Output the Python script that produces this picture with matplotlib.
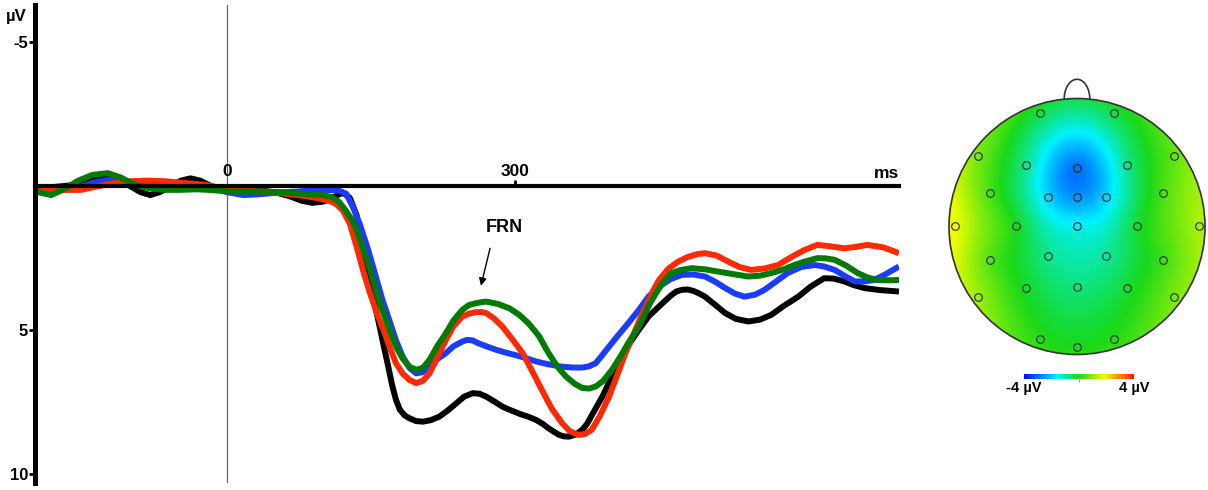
import numpy as np
import matplotlib
matplotlib.use("Agg")
import matplotlib.pyplot as plt
from matplotlib.colors import LinearSegmentedColormap
from matplotlib.patches import Circle

plt.rcParams['font.family'] = ['Liberation Sans', 'DejaVu Sans']
plt.rcParams['font.weight'] = 'bold'

# ERP waveforms (ms, µV; negative up)
t_black = [-200, -180, -159, -140, -124, -112, -100, -90, -80, -70, -59, -48, -38, -28, -17, -5, 3, 20, 38, 52,
           66, 78, 89, 100, 107, 114, 121, 128, 135, 140, 145, 149, 154, 159, 164, 168, 172, 176, 180, 185,
           190, 197, 204, 212, 221, 230, 239, 247, 256, 263, 270, 279, 287, 296, 305, 314, 322, 329, 335, 341,
           346, 351, 356, 363, 370, 375, 380, 385, 391, 396, 401, 406, 411, 420, 429, 439, 450, 462, 468, 474,
           480, 486, 492, 498, 508, 519, 530, 543, 555, 567, 580, 595, 608, 622, 632, 643, 653, 664, 680, 700]
v_black = [0.06, 0.02, -0.05, -0.25, -0.40, -0.25, 0.01, 0.2, 0.30, 0.2, 0.0, -0.2, -0.28, -0.2, -0.02, 0.1, 0.12, 0.13, 0.15, 0.22,
           0.35, 0.5, 0.57, 0.53, 0.45, 0.32, 0.22, 0.4, 1.0, 1.9, 2.6, 3.3, 4.1, 4.87, 5.65, 6.26, 6.9, 7.41, 7.75, 7.95,
           8.05, 8.15, 8.17, 8.12, 8.0, 7.78, 7.53, 7.3, 7.18, 7.2, 7.3, 7.48, 7.65, 7.78, 7.9, 8.0, 8.11, 8.25, 8.4, 8.53,
           8.63, 8.68, 8.69, 8.62, 8.45, 8.25, 7.95, 7.65, 7.3, 6.95, 6.6, 6.25, 5.91, 5.42, 4.98, 4.52, 4.17, 3.8, 3.65, 3.59,
           3.58, 3.63, 3.72, 3.83, 4.1, 4.40, 4.6, 4.69, 4.63, 4.46, 4.15, 3.83, 3.48, 3.19, 3.2, 3.30, 3.43, 3.53, 3.6, 3.65]

t_red = [-200, -175, -152, -135, -118, -100, -83, -65, -48, -35, -21, -8, 3, 20, 38, 55, 73, 87, 100, 107,
         114, 121, 128, 135, 142, 149, 156, 163, 170, 176, 183, 190, 197, 204, 211, 219, 228, 236, 245, 252,
         259, 265, 270, 278, 287, 297, 308, 318, 328, 338, 349, 357, 366, 373, 380, 388, 398, 406, 415, 422,
         429, 435, 440, 445, 450, 460, 470, 480, 490, 498, 510, 522, 534, 546, 560, 574, 588, 602, 615, 628,
         643, 655, 667, 684, 700]
v_red = [0.10, 0.12, 0.12, 0.0, -0.11, -0.18, -0.2, -0.18, -0.13, -0.09, -0.05, 0.05, 0.12, 0.15, 0.18, 0.23, 0.30, 0.36, 0.45, 0.5,
         0.62, 0.85, 1.3, 2.09, 2.95, 3.71, 4.4, 4.98, 5.63, 6.14, 6.5, 6.72, 6.83, 6.75, 6.49, 5.95, 5.33, 4.85, 4.52, 4.42,
         4.37, 4.36, 4.40, 4.58, 4.87, 5.3, 5.79, 6.42, 7.07, 7.7, 8.22, 8.5, 8.63, 8.6, 8.45, 8.0, 7.30, 6.6, 5.79, 5.25,
         4.7, 4.25, 3.9, 3.55, 3.25, 2.85, 2.61, 2.45, 2.35, 2.32, 2.4, 2.61, 2.8, 2.90, 2.85, 2.73, 2.45, 2.20, 2.03, 2.08,
         2.15, 2.1, 2.03, 2.12, 2.32]

t_blue = [-200, -180, -162, -140, -124, -105, -90, -70, -48, -30, -14, 0, 17, 30, 45, 60, 73, 87, 100, 110,
          117, 124, 131, 138, 147, 155, 162, 169, 176, 183, 190, 197, 204, 211, 219, 228, 236, 245, 250, 256,
          262, 270, 279, 287, 296, 305, 314, 322, 335, 349, 360, 370, 377, 384, 390, 398, 408, 418, 429, 439,
          450, 462, 474, 486, 498, 508, 519, 529, 539, 550, 560, 572, 584, 598, 612, 622, 633, 644, 654, 664,
          674, 686, 700]
v_blue = [0.12, 0.12, 0.10, -0.12, -0.23, -0.18, -0.11, -0.08, -0.05, 0.0, 0.06, 0.2, 0.30, 0.28, 0.24, 0.2, 0.18, 0.14, 0.12, 0.13,
          0.15, 0.25, 0.7, 1.28, 2.2, 3.13, 3.95, 4.64, 5.35, 5.91, 6.3, 6.49, 6.45, 6.26, 6.0, 5.79, 5.55, 5.39, 5.33, 5.35,
          5.45, 5.55, 5.66, 5.74, 5.82, 5.9, 5.99, 6.08, 6.18, 6.26, 6.29, 6.29, 6.25, 6.14, 5.9, 5.56, 5.15, 4.75, 4.29, 3.83,
          3.48, 3.22, 3.07, 3.06, 3.13, 3.3, 3.53, 3.72, 3.83, 3.76, 3.59, 3.3, 3.01, 2.8, 2.73, 2.78, 2.90, 3.12, 3.30, 3.3,
          3.25, 3.05, 2.78]

t_green = [-200, -190, -183, -170, -155, -140, -124, -110, -100, -90, -78, -66, -50, -31, -15, 3, 20, 38, 55, 73,
           87, 100, 110, 117, 124, 130, 135, 142, 149, 156, 163, 170, 176, 183, 190, 197, 204, 211, 219, 228,
           236, 245, 252, 259, 265, 270, 282, 294, 304, 314, 325, 335, 344, 353, 362, 370, 377, 384, 392, 401,
           410, 418, 429, 435, 440, 447, 455, 463, 473, 484, 498, 512, 528, 543, 555, 567, 580, 591, 603, 615,
           624, 633, 645, 657, 667, 677, 690, 700]
v_green = [0.18, 0.25, 0.30, 0.1, -0.2, -0.4, -0.46, -0.3, -0.12, 0.0, 0.08, 0.12, 0.12, 0.10, 0.13, 0.18, 0.18, 0.18, 0.2, 0.24,
           0.28, 0.3, 0.38, 0.55, 0.85, 1.15, 1.51, 2.2, 2.90, 3.7, 4.40, 5.05, 5.56, 5.98, 6.26, 6.37, 6.3, 6.02, 5.55, 5.10,
           4.65, 4.29, 4.12, 4.06, 4.02, 4.0, 4.08, 4.23, 4.45, 4.75, 5.2, 5.79, 6.25, 6.6, 6.85, 7.0, 7.02, 6.95, 6.75, 6.37,
           5.9, 5.44, 4.87, 4.45, 4.1, 3.7, 3.3, 3.01, 2.9, 2.84, 2.88, 2.96, 3.05, 3.13, 3.1, 3.01, 2.88, 2.73, 2.6, 2.49,
           2.5, 2.55, 2.75, 3.01, 3.16, 3.25, 3.26, 3.25]

series = [(t_black, v_black, '#000000'), (t_blue, v_blue, '#1a3cff'),
          (t_red, v_red, '#ff2a00'), (t_green, v_green, '#007a00')]

# topography: electrode positions (unit head radius) and amplitudes (µV)
el_x = [-0.29, 0.29, -0.77, 0.76, -0.40, 0.0, 0.39, -0.68, -0.23, 0.0, 0.23, 0.67, -0.95, -0.48, 0.0, 0.47, 0.95,
        -0.68, -0.23, 0.23, 0.67, -0.40, 0.0, 0.39, -0.77, 0.76, -0.29, 0.29, 0.0]
el_y = [0.89, 0.89, 0.55, 0.55, 0.48, 0.46, 0.48, 0.26, 0.23, 0.23, 0.23, 0.26, 0.0, 0.0, 0.0, 0.0, 0.0,
        -0.26, -0.23, -0.23, -0.26, -0.48, -0.47, -0.48, -0.55, -0.55, -0.88, -0.88, -0.94]
el_v = [-0.3, -0.3, 0.8, 0.6, -0.8, -2.9, -0.8, 0.4, -1.9, -2.6, -1.9, 0.4, 1.8, 0.0, -1.5, -0.2, 1.2,
        0.5, -0.8, -0.9, 0.3, -0.1, -0.7, -0.2, 1.1, 0.8, 0.1, 0.1, 0.0]

fig = plt.figure(figsize=(12.08, 4.90), dpi=100)

# ---- ERP panel ----
ax = fig.add_axes([35/1208, 7/490, (899-35)/1208, 478/490])
for t, v, c in series:
    ax.plot(t, v, color=c, lw=4.3, solid_joinstyle='round', solid_capstyle='butt')
ax.set_xlim(-200, 700)
ax.set_ylim(10.3, -6.3)
ax.axvline(0, color='#666666', lw=0.9, zorder=0)

for s in ['right', 'bottom']:
    ax.spines[s].set_visible(False)
ax.spines['left'].set_linewidth(3.6)
ax.spines['top'].set_position(('data', 0))
ax.spines['top'].set_linewidth(3)
ax.spines['top'].set_zorder(5)

ax.set_yticks([-5, 5, 10])
ax.set_yticklabels(['-5', '5', '10'], fontsize=12, fontweight='bold')
ax.tick_params(axis='y', length=4, width=2, pad=1)
ax.xaxis.set_ticks_position('top')
ax.set_xticks([0, 300])
ax.set_xticklabels(['0', '300'], fontsize=12.5, fontweight='bold')
ax.tick_params(axis='x', length=4, width=2, pad=1)
ax.xaxis.get_major_ticks()[0].tick2line.set_visible(False)
ax.text(700, -0.3, 'ms', ha='right', va='baseline', fontsize=12.5, fontweight='bold')
fig.text(16/1208, 1 - 16/490, 'µV', ha='center', va='center', fontsize=12, fontweight='bold')

ax.text(289, 1.44, 'FRN', ha='center', va='center', fontsize=13, fontweight='bold')
ax.annotate('', xy=(264.5, 3.45), xytext=(274, 2.15),
            arrowprops=dict(arrowstyle='-|>', color='k', lw=1, mutation_scale=11, shrinkA=0, shrinkB=0))

# ---- topographic map ----
cmap = LinearSegmentedColormap.from_list('topo', [
    (0.0, (0.0, 0.05, 1.0)), (0.3, (0.0, 0.95, 1.0)), (0.5, (0.1, 0.85, 0.1)),
    (0.73, (0.95, 1.0, 0.0)), (1.0, (1.0, 0.1, 0.0))])

ex, ey, ev = np.array(el_x), np.array(el_y), np.array(el_v)
n = len(ex)

def tps(r):
    with np.errstate(divide='ignore', invalid='ignore'):
        out = r**2 * np.log(r)
    return np.nan_to_num(out)

K = tps(np.hypot(ex[:, None] - ex[None, :], ey[:, None] - ey[None, :])) + 1e-3 * np.eye(n)
P = np.column_stack([np.ones(n), ex, ey])
A = np.block([[K, P], [P.T, np.zeros((3, 3))]])
sol = np.linalg.solve(A, np.concatenate([ev, np.zeros(3)]))
w, a = sol[:n], sol[n:]

g = np.linspace(-1.02, 1.02, 300)
gx, gy = np.meshgrid(g, g)
d = np.hypot(gx[..., None] - ex, gy[..., None] - ey)
z = tps(d) @ w + a[0] + a[1] * gx + a[2] * gy

hx = fig.add_axes([(1077-150)/1208, (263.5-150)/490, 300/1208, 300/490])
hx.set_xlim(-150/128, 150/128)
hx.set_ylim(-150/128, 150/128)
hx.axis('off')
im = hx.imshow(z, extent=(-1.02, 1.02, -1.02, 1.02), origin='lower', cmap=cmap,
               vmin=-4, vmax=4, interpolation='bilinear')
clip = Circle((0, 0), 1.0, transform=hx.transData)
im.set_clip_path(clip)
hx.add_patch(Circle((0, 0), 1.0, fill=False, ec='#333333', lw=1.2))
th = np.linspace(0, np.pi, 60)
hx.plot(0.1 * np.cos(th), 0.995 + 0.155 * np.sin(th), color='#333333', lw=1.2)
hx.plot(ex, ey, 'o', ms=5.5, mfc='none', mec='#2a2a2a', mew=0.8)

# colour bar
cx = fig.add_axes([1024/1208, (490-379)/490, 110/1208, 5/490])
cx.imshow(np.linspace(-4, 4, 256)[None, :], aspect='auto', cmap=cmap, vmin=-4, vmax=4,
          extent=(-4, 4, 0, 1))
cx.set_xticks([0])
cx.set_xticklabels([''])
cx.set_yticks([])
cx.tick_params(axis='x', length=2, width=0.6, color='#888888')
for s in cx.spines.values():
    s.set_visible(False)
fig.text(1024/1208, 1 - 388/490, '-4 µV', ha='center', va='center', fontsize=10.5, fontweight='bold')
fig.text(1134/1208, 1 - 388/490, '4 µV', ha='center', va='center', fontsize=10.5, fontweight='bold')

fig.savefig('out.png', dpi=100)
